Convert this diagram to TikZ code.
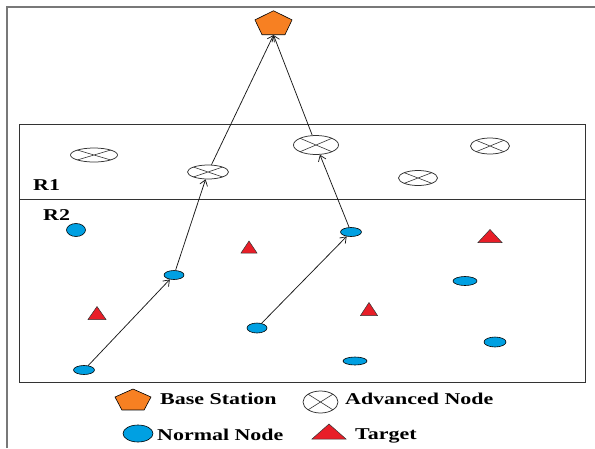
\documentclass[tikz,border=0pt]{standalone}
\usepackage{fontspec}
\setmainfont{Liberation Serif}
\usetikzlibrary{shapes.geometric,arrows.meta}

\definecolor{bsorange}{RGB}{247,128,34}
\definecolor{nodeblue}{RGB}{0,160,226}
\definecolor{tgtred}{RGB}{232,30,40}
\definecolor{framegray}{RGB}{120,120,120}
\definecolor{xgray}{RGB}{50,50,50}

% labels are set in a horizontally widened bold serif
\newcommand\widetext[1]{\scalebox{1.33}[1]{#1}}
% target triangle: centre x, centre y (downwards), width, height
\newcommand\tgt[4]{\draw[target] (#1-#3/2,-#2-#4/2) -- (#1,-#2+#4/2) -- (#1+#3/2,-#2-#4/2) -- cycle;}

\tikzset{
  adv/.style={ellipse, draw=xgray, line width=0.75pt, inner sep=0pt,
    path picture={\draw[xgray, line width=0.6pt]
      (path picture bounding box.north west) -- (path picture bounding box.south east)
      (path picture bounding box.north east) -- (path picture bounding box.south west);}},
  normal/.style={ellipse, draw=black, line width=0.6pt, fill=nodeblue, inner sep=0pt},
  base/.style={regular polygon, regular polygon sides=5, draw=black, fill=bsorange,
    line width=0.6pt, inner sep=0pt, transform shape},
  target/.style={draw=black!80, line width=0.5pt, fill=tgtred},
  link/.style={draw=black!90, line width=0.75pt, -{Straight Barb[length=5.5pt,width=8pt]}},
  lbl/.style={inner sep=0pt, anchor=base west, font=\fontsize{16.5}{18}\selectfont\bfseries},
}

\begin{document}
\begin{tikzpicture}[x=1pt,y=1pt]
\useasboundingbox (0,0) rectangle (595,-448);

% outer frame and the two regions
\draw[framegray, line width=1.5pt] (7,-448) -- (7,-7) -- (595,-7);
\draw[black!80, line width=0.9pt] (19,-124) rectangle (585,-382);
\draw[black!80, line width=0.9pt] (19,-199) -- (585,-199);
\node[lbl] (r1) at (33,-190.7) {\widetext{R1}};
\node[lbl] (r2) at (43,-220) {\widetext{R2}};

% base station
\node[base, minimum size=26.5pt, xscale=1.47] (bs) at (273.5,-24) {};

% advanced nodes
\node[adv, minimum width=47pt, minimum height=14pt] (a1) at (94,-155) {};
\node[adv, minimum width=41pt, minimum height=14pt] (a2) at (208,-172) {};
\node[adv, minimum width=45pt, minimum height=19pt] (a3) at (316,-145) {};
\node[adv, minimum width=39pt, minimum height=15pt] (a4) at (418,-178) {};
\node[adv, minimum width=39pt, minimum height=16pt] (a5) at (490,-146) {};

% normal nodes
\node[normal, minimum width=19pt, minimum height=13pt] (b1) at (76,-230) {};
\node[normal, minimum width=20pt, minimum height=9pt] (b2) at (174,-275) {};
\node[normal, minimum width=21pt, minimum height=9pt] (b3) at (351,-232) {};
\node[normal, minimum width=20pt, minimum height=10pt] (b4) at (257,-328) {};
\node[normal, minimum width=21pt, minimum height=9pt] (b5) at (84,-370) {};
\node[normal, minimum width=24pt, minimum height=9pt] (b6) at (465,-281) {};
\node[normal, minimum width=22pt, minimum height=10pt] (b7) at (495,-342) {};
\node[normal, minimum width=24pt, minimum height=8pt] (b8) at (355,-361) {};

% targets
\tgt{249}{247}{16}{12}
\tgt{97}{313}{18}{13}
\tgt{369}{309}{17}{13}
\tgt{490}{236}{24}{13}

% routing paths towards the base station
\draw[link] (b5) -- (b2);
\draw[link] (b2) -- (a2);
\draw[link] (a2) -- (bs.south);
\draw[link] (b4) -- (b3);
\draw[link] (b3) -- (a3);
\draw[link] (a3) -- (bs.south);

% legend
\node[base, minimum size=23.2pt, xscale=1.63] (lbs) at (133,-400.6) {};
\node[lbl] (lbst) at (160,-404) {\widetext{Base Station}};
\node[adv, minimum width=35pt, minimum height=22pt] (ladv) at (320.5,-402) {};
\node[lbl] (ladvt) at (345,-404) {\widetext{Advanced Node}};
\node[normal, minimum width=30pt, minimum height=17pt] (lnor) at (138,-433.5) {};
\node[lbl] (lnort) at (157,-440.5) {\widetext{Normal Node}};
\tgt{329}{431.5}{34}{15}
\node[lbl] (ltgtt) at (355,-439.5) {\widetext{Target}};
\end{tikzpicture}
\end{document}
